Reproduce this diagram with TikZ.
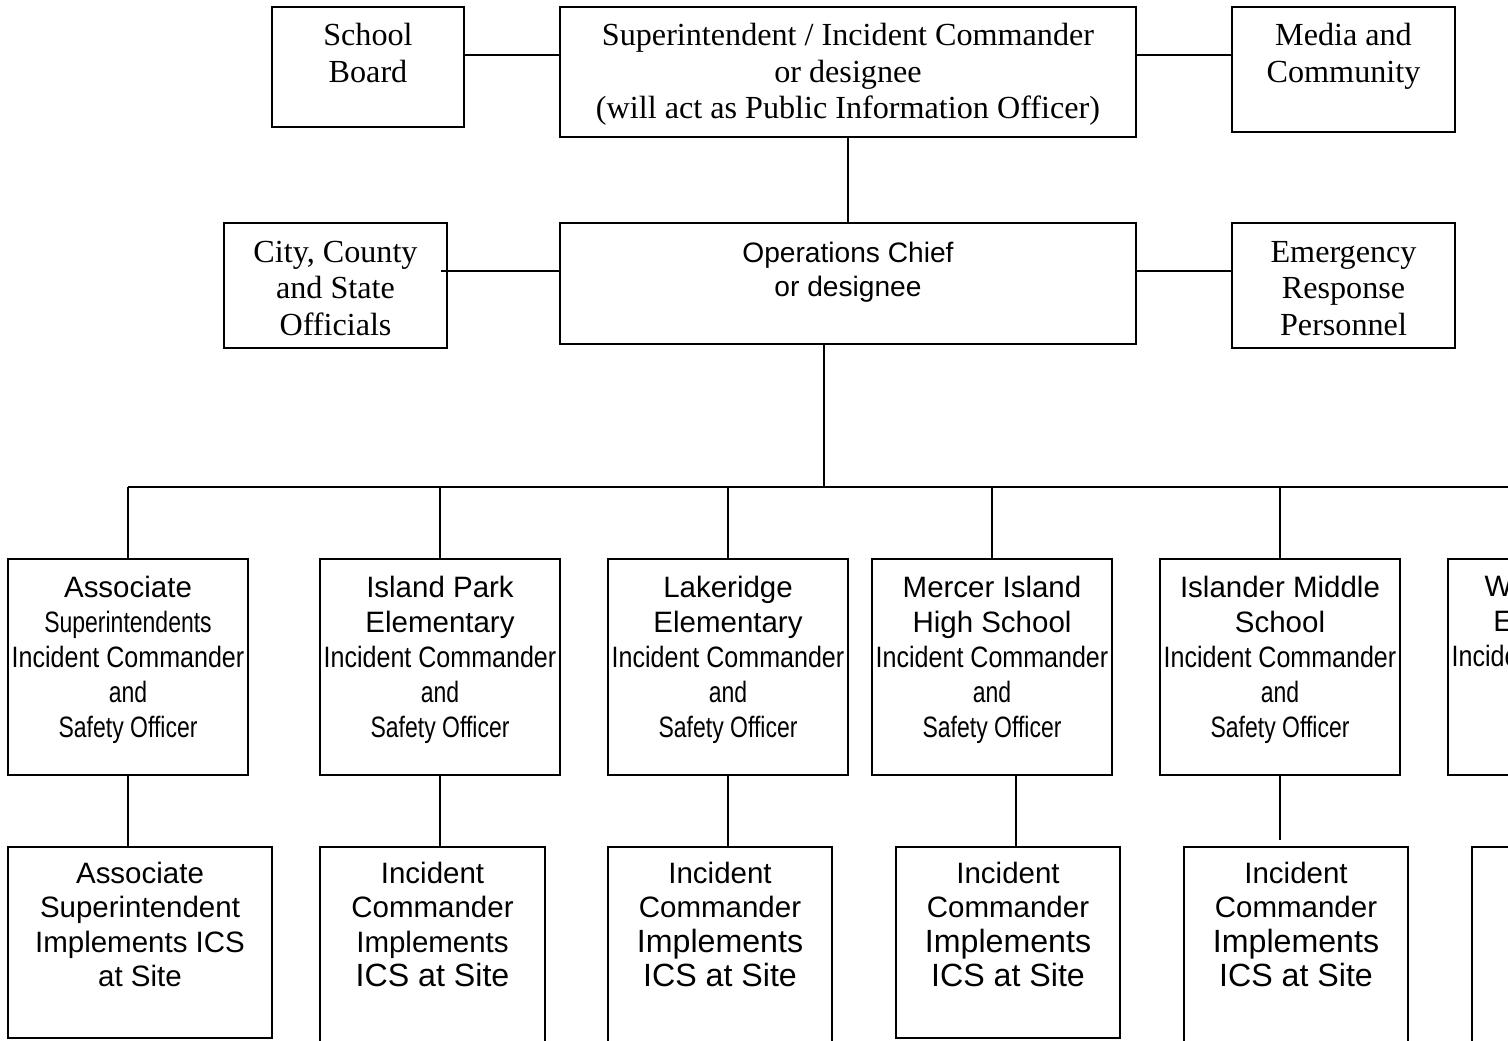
\documentclass[tikz,border=0pt]{standalone}
\usepackage{fontspec}
\setmainfont{Liberation Serif}
\setsansfont{Liberation Sans}
\usepackage{graphicx}
\usetikzlibrary{calc}
\newcommand{\pxu}{0.3731pt}
\newcommand{\squeeze}[2][.78]{\scalebox{#1}[1]{#2}}
\newcommand{\bigline}[1]{{\fontsize{12}{13.5}\selectfont #1}}
\tikzset{box/.style={draw,line width=.75pt,inner sep=0pt,outer sep=0pt},
  wh/.style 2 args={minimum width=#1*\pxu,minimum height=#2*\pxu},
  edge/.style={line width=.75pt},
  rmtxt/.style={anchor=north,align=center,inner sep=0pt,font=\rmfamily\fontsize{12}{13.6}\selectfont},
  sftxt/.style={anchor=north,align=center,inner sep=0pt,font=\sffamily\fontsize{11}{13.06}\selectfont},
  optxt/.style={sftxt,font=\sffamily\fontsize{10.5}{12.6}\selectfont},
  bttxt/.style={sftxt,font=\sffamily\fontsize{11}{12.8}\selectfont}}

\begin{document}
\begin{tikzpicture}[x=\pxu,y=-\pxu]
\useasboundingbox (0,0) rectangle (1508,1040);
\clip (0,0) rectangle (1508,1040);
% superintendent and operations levels
\node[box,wh={192}{120}] (board) at (368,67) {};
\node[box,wh={576}{130}] (sup) at (848,72) {};
\node[box,wh={223}{125}] (media) at (1343.5,69.5) {};
\node[box,wh={223}{125}] (city) at (335.5,285) {};
\node[box,wh={576}{121}] (ops) at (848,283) {};
\node[box,wh={223}{125}] (resp) at (1343.5,285) {};
\node[rmtxt] at ($(board.north)+(0,16)$) {School\\Board};
\node[rmtxt] at ($(sup.north)+(0,16)$) {Superintendent / Incident Commander\\or designee\\(will act as Public Information Officer)};
\node[rmtxt] at ($(media.north)+(0,16)$) {Media and\\Community};
\node[rmtxt] at ($(city.north)+(0,18)$) {City, County\\and State\\Officials};
\node[optxt] at ($(ops.north)+(0,19.5)$) {Operations Chief\\or designee};
\node[rmtxt] at ($(resp.north)+(0,18)$) {Emergency\\Response\\Personnel};
\draw[edge] ($(board.north east)+(0,48)$) -- ($(sup.north west)+(0,48)$);
\draw[edge] ($(sup.north east)+(0,48)$) -- ($(media.north west)+(0,48)$);
\draw[edge] (sup.south) -- (ops.north);
\draw[edge] ($(city.north east)+(-6,48)$) -- ($(ops.north west)+(0,48)$);
\draw[edge] ($(ops.north east)+(0,48)$) -- ($(resp.north west)+(0,48)$);
% site commanders
\foreach \n/\x/\name in {1/128/{Associate\\\squeeze{Superintendents}},2/440/{Island Park\\Elementary},3/728/{Lakeridge\\Elementary},4/992/{Mercer Island\\High School},5/1280/{Islander Middle\\School}}{
\node[box,wh={240}{216}] (m\n) at (\x,667) {};
\node[sftxt] at ($(m\n.north)+(0,16.5)$) {\name\\\squeeze[.85]{Incident Commander}\\\squeeze{and}\\\squeeze{Safety Officer}};}
\node[box,wh={240}{216}] (m6) at (1568,667) {};
\node[sftxt] at ($(m6.north)+(0,16.5)$) {West Mercer\\Elementary\\\squeeze[.85]{Incident Commander}};
\coordinate (bus) at (824,487);
\draw[edge] ($(ops.south)+(-24,0)$) -- (bus);
\draw[edge] (m1.north|-bus) -- (m6.north|-bus);
\foreach \n in {1,...,6} \draw[edge] (m\n.north) -- (m\n.north|-bus);
% ICS at each site
\foreach \n/\x/\w/\h in {1/140/264/191,2/432.5/225/223,3/720/224/223,4/1008/224/191,5/1296/224/223,6/1584/224/223}
  \node[box,wh={\w}{\h}] (b\n) at (\x,{847+\h/2}) {};
\foreach \n/\dx/\gap in {1/0/0,2/0/0,3/0/0,4/24/0,5/0/7}
  \draw[edge] ($(m\n.south)+(\dx,0)$) -- ($(m\n.south|-b\n.north)+(\dx,-\gap)$);
\node[bttxt] at ($(b1.north)+(0,14.5)$) {Associate\\Superintendent\\Implements ICS\\at Site};
\node[bttxt] at ($(b2.north)+(0,14.5)$) {Incident\\Commander\\Implements\\\bigline{ICS at Site}};
\foreach \n in {3,4,5}
  \node[bttxt] at ($(b\n.north)+(0,14.5)$) {Incident\\Commander\\\bigline{Implements}\\\bigline{ICS at Site}};
\end{tikzpicture}
\end{document}
